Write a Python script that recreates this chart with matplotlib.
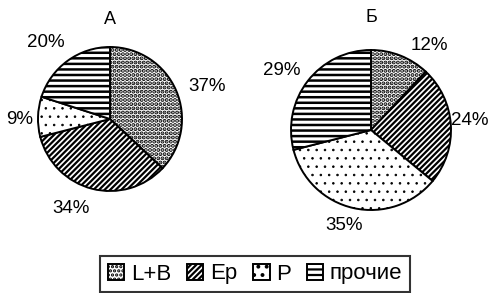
import numpy as np
import matplotlib
matplotlib.use("Agg")
import matplotlib.pyplot as plt

plt.rcParams['font.family'] = ['Liberation Sans', 'DejaVu Sans']
plt.rcParams['hatch.linewidth'] = 1.6

categories = ["L+B", "Ep", "P", "прочие"]
values_a = [37, 34, 9, 20]
values_b = [12, 24, 35, 29]
titles = ["А", "Б"]
hatches = ["....", "//////", "..", "---"]
hatch_lw = [2.0, 1.6, 0.6, 1.8]
label_dist_a = [1.42, 1.35, 1.25, 1.39]
label_shift_a = [-5, -9, 2, 4]
label_dist_b = [1.29, 1.24, 1.24, 1.34]
label_shift_b = [-13, 2, -3, 4]

W, H = 493, 293
fig = plt.figure(figsize=(W / 100, H / 100), dpi=100)
ax = fig.add_axes([0, 0, 1, 1])

def draw(vals, center, radius, ldists, lshifts, title, title_y):
    wedges, _ = ax.pie(
        vals, startangle=90, counterclock=False,
        center=center, radius=radius, frame=True,
        colors=['white'] * len(vals),
        wedgeprops=dict(edgecolor='black', linewidth=1.4))
    for w, h, lw, v, d, s in zip(wedges, hatches, hatch_lw, vals, ldists, lshifts):
        w.set_hatch(h)
        if hasattr(w, 'set_hatch_linewidth'):
            w.set_hatch_linewidth(lw)
        ang = np.deg2rad((w.theta1 + w.theta2) / 2 + s)
        ax.text(center[0] + d * radius * np.cos(ang),
                center[1] + d * radius * np.sin(ang),
                f"{v}%", ha='center', va='center', fontsize=13.5)
    ax.text(center[0], title_y, title, ha='center', va='center', fontsize=13)
    return wedges

wa = draw(values_a, (110, H - 119), 72, label_dist_a, label_shift_a, titles[0], H - 20)
wb = draw(values_b, (371, H - 130), 80, label_dist_b, label_shift_b, titles[1], H - 18)
ax.set_xlim(0, W)
ax.set_ylim(0, H)
ax.set_aspect('equal')
ax.axis('off')

leg = fig.legend(wa, categories, loc='center', bbox_to_anchor=(255 / W, 1 - 274 / H),
                 ncol=4, fontsize=16, frameon=True, fancybox=False,
                 handlelength=0.75, handleheight=0.75, handletextpad=0.3,
                 columnspacing=0.7, borderpad=0.35, borderaxespad=0)
leg.get_frame().set_edgecolor('black')
leg.get_frame().set_linewidth(1.5)

fig.savefig("out.png", dpi=100)
